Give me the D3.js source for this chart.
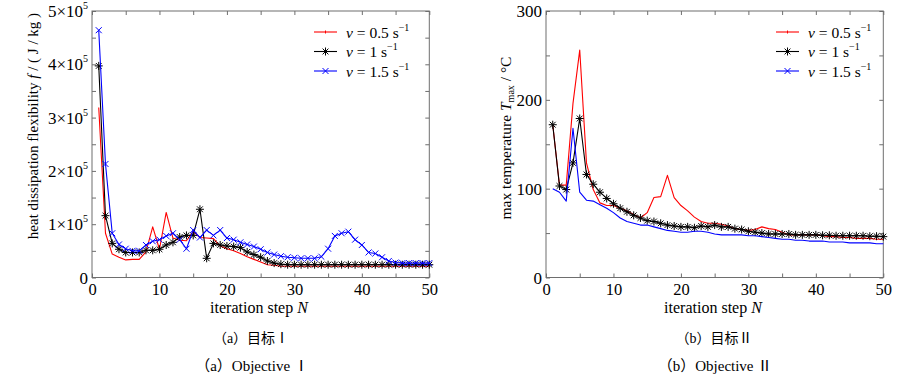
<!DOCTYPE html>
<html><head><meta charset="utf-8">
<script src="https://cdn.jsdelivr.net/npm/d3@7"></script>
<style>
body{margin:0;background:#fff;}
svg{display:block;}
text{font-family:"Liberation Serif","Noto Sans CJK SC",serif;fill:#000;}
</style></head>
<body>
<svg id="c" width="919" height="382"></svg>
<script>
// ---- data ----
const steps = d3.range(1, 51);
const seriesLabels = ["0.5", "1", "1.5"];
// Objective I: heat dissipation flexibility (x 1e5 J/kg)
const flexV05 = [3.19,0.83,0.44,0.38,0.33,0.34,0.34,0.48,0.95,0.53,1.22,0.74,0.70,0.69,0.86,0.75,0.74,0.73,0.59,0.54,0.50,0.45,0.39,0.34,0.29,0.24,0.23,0.21,0.21,0.21,0.21,0.21,0.21,0.21,0.21,0.21,0.21,0.21,0.21,0.21,0.21,0.21,0.21,0.21,0.21,0.21,0.21,0.21,0.21,0.21];
const flexV1  = [3.97,1.16,0.64,0.53,0.47,0.47,0.47,0.51,0.51,0.53,0.61,0.66,0.76,0.79,0.79,1.28,0.36,0.64,0.61,0.59,0.58,0.56,0.48,0.43,0.38,0.31,0.27,0.25,0.24,0.24,0.24,0.24,0.24,0.24,0.24,0.24,0.24,0.24,0.24,0.24,0.24,0.24,0.24,0.24,0.24,0.24,0.24,0.24,0.24,0.24];
const flexV15 = [4.64,2.13,0.83,0.62,0.54,0.50,0.50,0.61,0.68,0.71,0.78,0.83,0.71,0.54,0.89,0.75,0.89,0.79,0.89,0.74,0.71,0.66,0.62,0.58,0.53,0.47,0.43,0.40,0.38,0.37,0.36,0.36,0.36,0.39,0.54,0.78,0.83,0.86,0.71,0.61,0.47,0.45,0.38,0.31,0.28,0.27,0.27,0.27,0.27,0.27];
// Objective II: max temperature (°C)
const tempV05 = [172,104,104,196,256,129,99,84,81,81,78,75,71,67,73,90,91,115,90,81,75,68,63,61,61,60,58,55,54,53,54,57,55,54,51,48,48,48,48,48,47,46,46,45,45,44,44,44,43,43];
const tempV1  = [172,103,99,129,179,116,105,96,89,83,78,74,70,67,64,63,61,59,58,57,57,56,58,57,59,57,57,55,54,52,51,50,49,49,49,49,48,48,48,48,47.5,47.5,47,47,47,47,47,46.5,46.5,46];
const tempV15 = [100,96,86,168,96,87,86,82,78,73,67,63,61,59,59,57,55,53,52,51,51,52,52,51,49,48,48,48,48,47,47,46,45,44,43,43,42,42,41,41,41,40,40,40,39,39,39,39,38,38];
const xTicks = [0,5,10,15,20,25,30,35,40,45,50];
const flexTicks = [0,0.5,1,1.5,2,2.5,3,3.5,4,4.5,5];
const tempTicks = [0,50,100,150,200,250,300];

const svg = d3.select("#c");
const colors = ["#ff0000", "#000000", "#0000ff"];
const boxColor = "#6e6e6e";

function asteriskPath(){return "M-4,0H4M0,-4V4M-2.9,-2.9L2.9,2.9M-2.9,2.9L2.9,-2.9";}
function crossPath(){return "M-3,-3L3,3M-3,3L3,-3";}

function panel(o){
  const g = svg.append("g");
  const x = d3.scaleLinear().domain([0,50]).range([o.x0, o.x1]);
  const y = d3.scaleLinear().domain(o.ydom).range([277.5, 11]);
  const ax = [
    [d3.axisBottom(x), 277.5, "b"], [d3.axisTop(x), 11, "t"]
  ];
  ax.forEach(([a, ty, k]) => {
    const gg = g.append("g").attr("transform", `translate(0,${ty})`)
      .call(a.tickValues(xTicks).tickSize(-4).tickFormat(k==="b" ? (d => d%10===0 ? d : "") : ""));
    gg.select(".domain").remove();
    gg.selectAll(".tick line").attr("stroke", boxColor);
    gg.selectAll(".tick text").attr("y", 17.5).attr("dy", null).attr("font-size", 16.5).attr("fill", "#000");
  });
  [[d3.axisLeft(y), o.x0], [d3.axisRight(y), o.x1]].forEach(([a, tx]) => {
    const gg = g.append("g").attr("transform", `translate(${tx},0)`)
      .call(a.tickValues(o.yticks).tickSize(-4).tickFormat(""));
    gg.select(".domain").remove();
    gg.selectAll(".tick line").attr("stroke", boxColor);
    gg.selectAll(".tick text").remove();
  });
  o.ylabels.forEach(v => {
    const t = g.append("text").attr("x", o.x0 - 4).attr("y", y(v) + 6)
      .attr("text-anchor", "end").attr("font-size", 17);
    if (o.exp && v !== 0) {
      t.append("tspan").text(v + "×10");
      t.append("tspan").attr("font-size", 10).attr("dy", -8).text("5");
    } else {
      t.text(v);
    }
  });
  g.append("rect").attr("x", o.x0).attr("y", 11).attr("width", o.x1 - o.x0).attr("height", 266.5)
    .attr("fill", "none").attr("stroke", boxColor).attr("stroke-width", 1);
  const line = d3.line().x((d,i) => x(steps[i])).y(d => y(d));
  o.series.forEach((s, k) => {
    g.append("path").datum(s).attr("d", line).attr("fill", "none")
      .attr("stroke", colors[k]).attr("stroke-width", 1.1).attr("stroke-linejoin", "round");
    const mk = o.markers[k];
    if (mk) {
      g.selectAll(null).data(s).enter().append("path")
        .attr("transform", (d,i) => `translate(${x(steps[i])},${y(d)})`)
        .attr("d", mk === "*" ? asteriskPath() : crossPath())
        .attr("fill", "none").attr("stroke", colors[k]).attr("stroke-width", 1);
    }
  });
  const xt = g.append("text").attr("x", o.xtitleX).attr("y", 313).attr("text-anchor", "middle").attr("font-size", 16);
  xt.append("tspan").text("iteration step ");
  xt.append("tspan").attr("font-style", "italic").text("N");
  const yt = g.append("text").attr("transform", `translate(${o.ytx},${o.yty}) rotate(-90)`)
    .attr("text-anchor", "middle").attr("font-size", o.ytSize);
  o.ytitle(yt);
  const lgMarkers = o.legendMarkers;
  seriesLabels.forEach((lab, k) => {
    const ly = 32 + k * 19.5;
    g.append("line").attr("x1", o.lgx).attr("x2", o.lgx + 23).attr("y1", ly).attr("y2", ly)
      .attr("stroke", colors[k]).attr("stroke-width", 1.1);
    const cx = o.lgx + 11.5;
    const m = lgMarkers[k];
    g.append("path").attr("transform", `translate(${cx},${ly})`)
      .attr("d", m === "*" ? asteriskPath() : m === "x" ? crossPath() : "M0,-1.5V1.5")
      .attr("fill", "none").attr("stroke", colors[k]).attr("stroke-width", 1);
    const t = g.append("text").attr("x", o.lgx + 32).attr("y", ly + 5.5).attr("font-size", 15.5);
    t.append("tspan").attr("font-style", "italic").text("v");
    t.append("tspan").text(" = " + lab + " s");
    t.append("tspan").attr("font-size", 10).attr("dy", -7).text("−1");
  });
  g.append("text").attr("x", o.capX).attr("y", 343).attr("text-anchor", "middle")
    .attr("font-size", 14).attr("font-family", "Noto Sans CJK SC").attr("fill", "#222").text(o.cap1);
  g.append("text").attr("x", o.capX + 1).attr("y", 371).attr("text-anchor", "middle")
    .attr("font-size", 15).attr("fill", "#222").text(o.cap2);
}

panel({
  x0: 92, x1: 429.3, ydom: [0,5], yticks: flexTicks, ylabels: [0,1,2,3,4,5], exp: true,
  series: [flexV05, flexV1, flexV15], markers: [null, "*", "x"], legendMarkers: ["+", "*", "x"],
  xtitleX: 259, ytx: 38, yty: 126, ytSize: 15,
  ytitle: t => {
    t.append("tspan").text("heat dissipation flexibility ");
    t.append("tspan").attr("font-style", "italic").text("f");
    t.append("tspan").text(" / ( J / kg )");
  },
  lgx: 314, capX: 251, cap1: "（a）目标Ⅰ", cap2: "（a）Objective  Ⅰ"
});

panel({
  x0: 546, x1: 883.3, ydom: [0,300], yticks: tempTicks, ylabels: [0,100,200,300], exp: false,
  series: [tempV05, tempV1, tempV15], markers: [null, "*", null], legendMarkers: ["+", "*", "x"],
  xtitleX: 713, ytx: 511, yty: 138, ytSize: 15.5,
  ytitle: t => {
    t.append("tspan").text("max temperature ");
    t.append("tspan").attr("font-style", "italic").text("T");
    t.append("tspan").attr("font-size", 10).attr("dy", 3).text("max");
    t.append("tspan").attr("dy", -3).text(" / °C");
  },
  lgx: 776, capX: 714, cap1: "（b）目标Ⅱ", cap2: "（b）Objective  Ⅱ"
});
</script>
</body></html>
